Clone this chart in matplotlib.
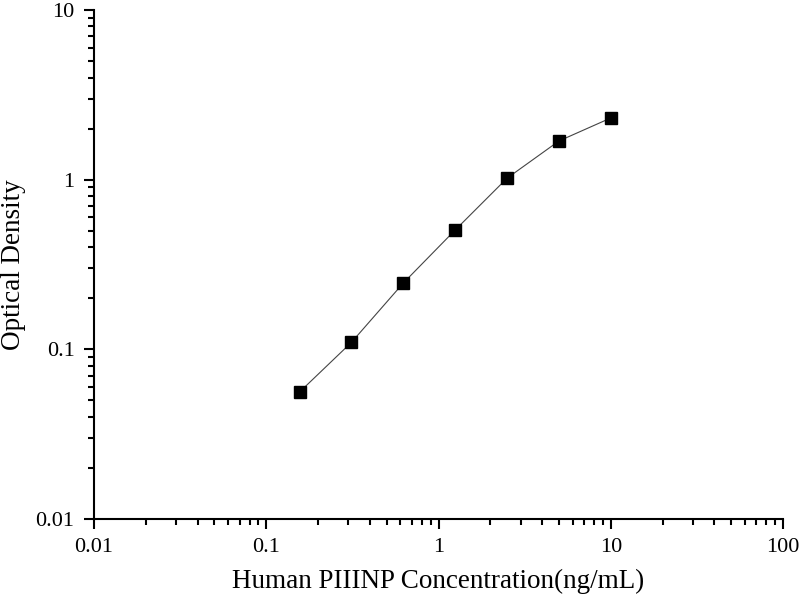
import numpy as np
import matplotlib.pyplot as plt

plt.rcParams['font.family'] = ['Liberation Serif', 'DejaVu Serif']

# standard curve values
conc = [0.156, 0.3125, 0.625, 1.25, 2.5, 5, 10]
od = [0.056, 0.110, 0.246, 0.505, 1.02, 1.69, 2.31]

xticks = [0.01, 0.1, 1, 10, 100]
xlabels = ['0.01', '0.1', '1', '10', '100']
yticks = [0.01, 0.1, 1, 10]
ylabels = ['0.01', '0.1', '1', '10']

fig = plt.figure(figsize=(8, 6), dpi=100)
ax = fig.add_axes([0.1175, 0.135, 0.86125, 0.8483])

ax.plot(conc, od, '-', color='#444444', lw=0.8)
ax.plot(conc, od, 's', color='black', ms=8.5, mec='black')

ax.set_xscale('log')
ax.set_yscale('log')
ax.set_xlim(0.01, 100)
ax.set_ylim(0.01, 10)
ax.set_xticks(xticks)
ax.set_xticklabels(xlabels)
ax.set_yticks(yticks)
ax.set_yticklabels(ylabels)

for s in ['top', 'right']:
    ax.spines[s].set_visible(False)
for s in ['left', 'bottom']:
    ax.spines[s].set_linewidth(1.5)

ax.tick_params(which='major', direction='out', length=7, width=1.5, labelsize=16, pad=7)
ax.tick_params(which='minor', direction='out', length=4, width=1.5)

ax.set_xlabel('Human PIIINP Concentration(ng/mL)', fontsize=19.5, labelpad=8)
ax.set_ylabel('Optical Density', fontsize=19.5)
ax.yaxis.set_label_coords(-0.099, 0.5)

fig.savefig('out.png', dpi=100)
